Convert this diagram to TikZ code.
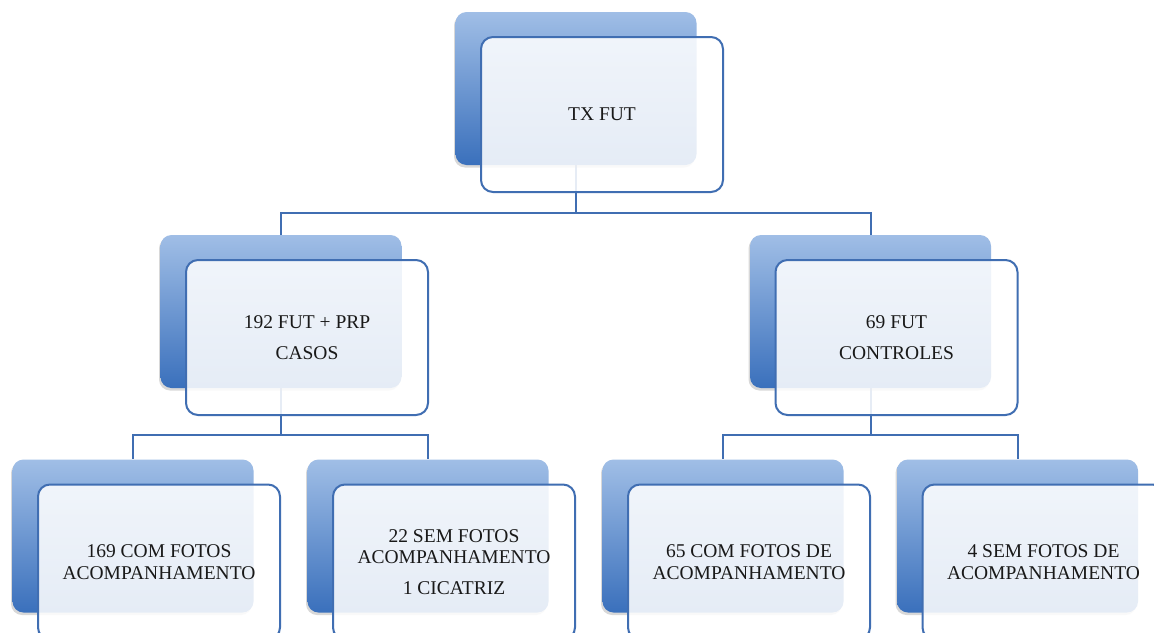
\documentclass[tikz,border=0pt]{standalone}
\usepackage{fontspec}
\setmainfont{Liberation Serif}
\usetikzlibrary{shadows}
\definecolor{lineblue}{RGB}{64,110,178}
\definecolor{topblue}{RGB}{160,190,230}
\definecolor{botblue}{RGB}{58,112,188}
\definecolor{txt}{RGB}{25,25,25}
\pgfdeclarelayer{bglayer}
\pgfdeclarelayer{connlayer}
\pgfsetlayers{bglayer,connlayer,main}
\tikzset{
  backbox/.style={rectangle, rounded corners=11pt, minimum width=241pt, minimum height=153pt,
    top color=topblue, bottom color=botblue, draw=none, inner sep=0pt,
    drop shadow={shadow xshift=-1.5pt, shadow yshift=-2.5pt, opacity=0.3}},
  frontbox/.style={rectangle, rounded corners=12pt, minimum width=242pt, minimum height=155pt,
    draw=lineblue, line width=2pt, fill=white, fill opacity=0.87, text opacity=1,
    inner sep=0pt, align=center, text=txt, font=\fontsize{19.5}{21.5}\selectfont},
  conn/.style={draw=lineblue, line width=2pt}
}
\begin{document}
\begin{tikzpicture}[x=1pt, y=-1pt]
\begin{pgfonlayer}{bglayer}
\fill[white] (0,0) rectangle (1154,632);
\end{pgfonlayer}
\useasboundingbox (0,0) rectangle (1154,632);

% back boxes
\node[backbox] (tb)  at (576,88.5) {};
\node[backbox] (lb)  at (281,311.5) {};
\node[backbox] (rb)  at (870.5,311.5) {};
\node[backbox] (b1b) at (133,536) {};
\node[backbox] (b2b) at (428,536) {};
\node[backbox] (b3b) at (723,536) {};
\node[backbox] (b4b) at (1017.5,536) {};

% front boxes
\node[frontbox] (tf)  at (602,114.5) {TX FUT};
\node[frontbox] (lf)  at (307,337.5) {192 FUT + PRP\\[9pt]CASOS};
\node[frontbox] (rf)  at (896.5,337.5) {69 FUT\\[9pt]CONTROLES};
\node[frontbox] (b1f) at (159,562) {169 COM FOTOS\\ACOMPANHAMENTO};
\node[frontbox] (b2f) at (454,562) {22 SEM FOTOS\\ACOMPANHAMENTO\\[9pt]1 CICATRIZ};
\node[frontbox] (b3f) at (749,562) {65 COM FOTOS DE\\ACOMPANHAMENTO};
\node[frontbox] (b4f) at (1043.5,562) {4 SEM FOTOS DE\\ACOMPANHAMENTO};

% connectors
\begin{pgfonlayer}{connlayer}
\draw[conn] (tb.south) -- ++(0,48) -| (lb.north);
\draw[conn] (tb.south) -- ++(0,48) -| (rb.north);
\draw[conn] (lb.south) -- ++(0,47) -| (b1b.north);
\draw[conn] (lb.south) -- ++(0,47) -| (b2b.north);
\draw[conn] (rb.south) -- ++(0,47) -| (b3b.north);
\draw[conn] (rb.south) -- ++(0,47) -| (b4b.north);
\end{pgfonlayer}
\end{tikzpicture}
\end{document}
